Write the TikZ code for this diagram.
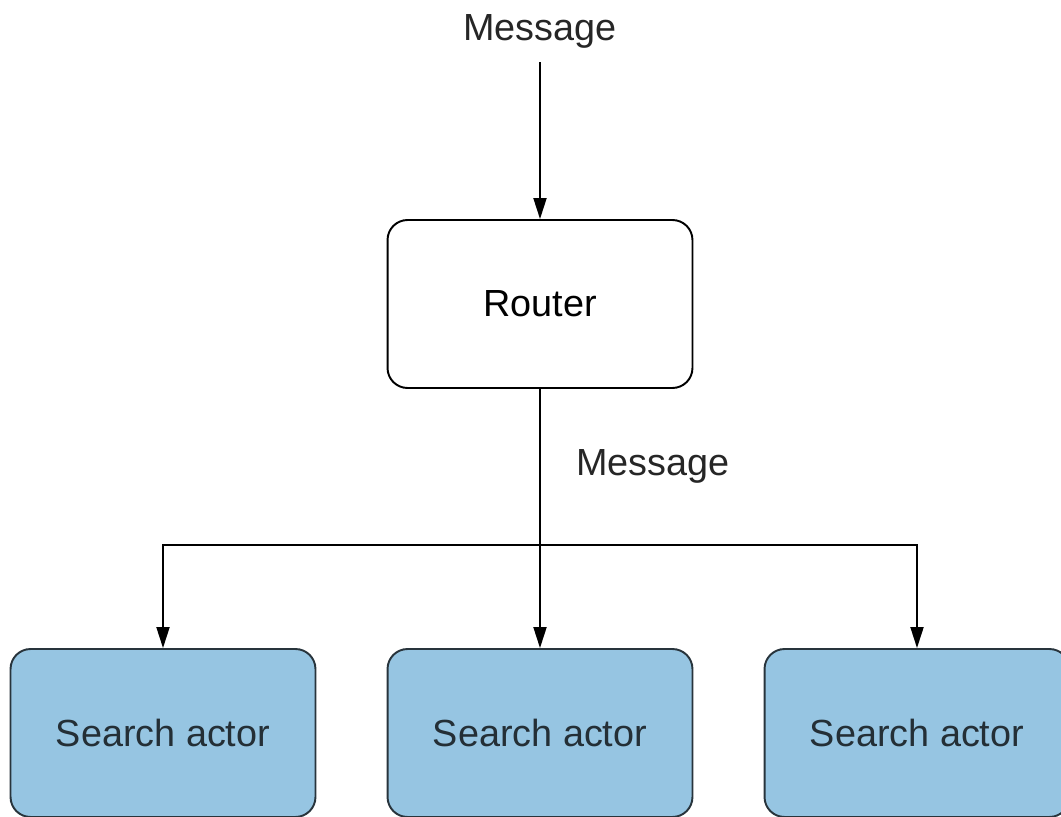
\documentclass[tikz,border=0pt]{standalone}
\usepackage{fontspec}
\setmainfont{Liberation Sans}
\usetikzlibrary{arrows.meta,positioning}
\definecolor{actorblue}{RGB}{150,197,226}
\definecolor{actorline}{RGB}{40,52,60}

\begin{document}
\begin{tikzpicture}[x=0.02cm, y=-0.02cm,
	box/.style={draw, rounded corners=0.4cm, line width=1.1pt,
		minimum width=6.1cm, minimum height=3.36cm,
		font=\fontsize{21.5}{24}\selectfont},
	actor/.style={box, draw=actorline, fill=actorblue, text=actorline!90!black},
	msg/.style={font=\fontsize{21.5}{24}\selectfont, text=black!85},
	flow/.style={line width=1.1pt, -{Stealth[length=0.42cm, width=0.26cm, inset=0pt]}}]
	\useasboundingbox (0,0) rectangle (1061,817);
	% Draw the nodes
	\node[msg]         (in)     at (540,31)  {Message};
	\node[box]         (router) at (540,304) {Router};
	\node[actor]       (s1)     at (163,733) {Search actor};
	\node[actor]       (s2)     at (540,733) {Search actor};
	\node[actor]       (s3)     at (917,733) {Search actor};
	\node[msg]         (out)    at (653,466) {Message};
	\coordinate (split) at (540,545);
	% Connect them
	\draw[flow, shorten <=0.16cm] (in) -- (router);
	\draw[flow] (router) -- (s2);
	\draw[flow] (split) -| (s1);
	\draw[flow] (split) -| (s3);
\end{tikzpicture}
\end{document}
